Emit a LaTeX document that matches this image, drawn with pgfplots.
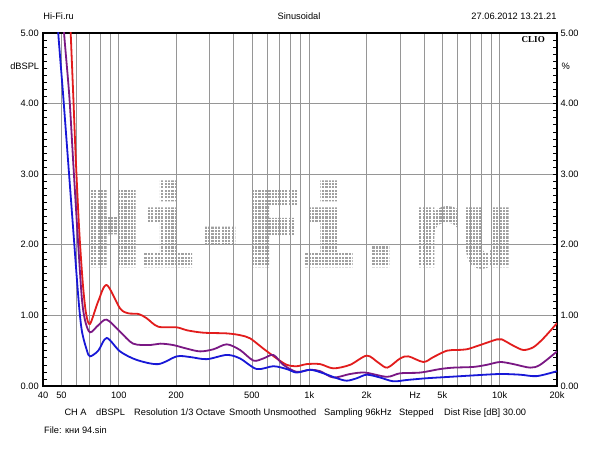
\documentclass[border=0pt]{standalone}
\usepackage{fontspec}
\setmainfont{Liberation Sans}
\newfontfamily\clioserif{Liberation Serif}
\newfontfamily\wmmono[BoldFeatures={FakeBold=4}]{DejaVu Sans Mono}
\usepackage{pgfplots}
\pgfplotsset{compat=1.18}
\definecolor{cred}{RGB}{226,28,28}
\definecolor{cpur}{RGB}{122,24,132}
\definecolor{cblu}{RGB}{24,24,215}
\definecolor{cgrid}{RGB}{150,150,150}
\definecolor{cwm}{RGB}{160,160,160}
\begin{document}
\begin{tikzpicture}[x=1bp,y=1bp]
\useasboundingbox[fill=white] (0,0) rectangle (600,450);
% watermark (dot-matrix look)
\node[anchor=south west, inner sep=0pt, text=cwm] at (86,183)
  {\resizebox{428bp}{83bp}{\wmmono\bfseries Hi-Fi.ru}};
\foreach \i in {0,...,26} {
  \draw[white, line width=1.1bp] (80,180.6+\i*3.35) -- (520,180.6+\i*3.35);
}
\foreach \i in {0,...,131} {
  \draw[white, line width=1.1bp] (80.25+\i*3.35,178) -- (80.25+\i*3.35,272);
}
\begin{axis}[
  at={(43bp,64bp)}, anchor=south west,
  width=514bp, height=353bp, scale only axis,
  xmode=log, xmin=40, xmax=20000, ymin=0, ymax=5,
  axis line style={line width=1.8bp},
  xtick={40,50,100,200,500,1000,2000,5000,10000,20000},
  xticklabels={40,50,100,200,500,1k,2k,5k,10k,20k},
  minor xtick={50,60,70,80,90,100,200,300,400,500,600,700,800,900,1000,2000,3000,4000,5000,6000,7000,8000,9000,10000},
  xmajorgrids=false, xminorgrids=true,
  minor x grid style={cgrid, line width=0.6bp},
  xtick style={draw=none},
  ytick={0,1,2,3,4,5},
  yticklabels={0.00,1.00,2.00,3.00,4.00,5.00},
  minor y tick num=9,
  ymajorgrids=true,
  major y grid style={cgrid, line width=0.6bp},
  tick align=inside,
  major tick length=4bp, minor tick length=4bp,
  ytick style={line width=0.6bp, black},
  ticklabel style={font=\fontsize{9.3}{10}\selectfont},
  xticklabel style={yshift=-2.5bp},
  yticklabel style={xshift=-0.8bp},
  /pgf/number format/assume math mode=true,
  clip=true,
]
\addplot[cred, line width=1.8bp, smooth] coordinates {
(55.3,5.3) (55.9,5.0) (57.7,4.1) (59.6,3.15) (62.0,2.2) (64.7,1.46) (67.3,1.03) (70.6,0.88)
(78,1.20) (86.4,1.43) (101.5,1.10) (112,1.03) (127,1.02) (140,0.96) (161,0.84) (202,0.83)
(227,0.79) (278,0.755) (369,0.745) (433,0.72) (489,0.675) (574,0.53) (675,0.39) (762,0.30)
(860,0.28) (971,0.31) (1140,0.31) (1339,0.25) (1639,0.30) (2005,0.43) (2307,0.33) (2573,0.26)
(3000,0.39) (3316,0.42) (3976,0.34) (4488,0.41) (5276,0.50) (5956,0.51) (6720,0.52) (7892,0.58)
(9660,0.66) (10264,0.66) (11808,0.57) (13324,0.51) (15040,0.55) (16972,0.675) (20000,0.89)
};
\addplot[cpur, line width=1.8bp, smooth] coordinates {
(51.2,5.3) (51.6,5.0) (55.0,4.1) (57.7,3.15) (60.6,2.2) (63.9,1.26) (66.5,0.93) (70.6,0.76)
(78,0.86) (86.4,0.94) (101.5,0.77) (119,0.60) (146,0.58) (165,0.60) (193,0.58) (227,0.53)
(267,0.49) (314,0.52) (369,0.59) (433,0.51) (509,0.36) (574,0.39) (648,0.44) (731,0.30)
(860,0.20) (1010,0.23) (1140,0.21) (1339,0.12) (1639,0.17) (1964,0.19) (2555,0.13) (3000,0.18)
(3820,0.19) (4864,0.24) (5716,0.26) (7280,0.27) (8560,0.30) (10052,0.34) (11808,0.31)
(14452,0.26) (16304,0.30) (20000,0.49)
};
\addplot[cblu, line width=1.8bp, smooth] coordinates {
(47.7,5.3) (48.1,5.0) (51.1,4.1) (54.3,3.15) (57.7,2.2) (61.3,1.26) (63.9,0.79) (67.9,0.51)
(70.6,0.42) (78,0.50) (86.4,0.68) (101.5,0.49) (124,0.37) (161,0.31) (202,0.42) (237,0.41)
(290,0.38) (369,0.44) (433,0.39) (530,0.24) (648,0.28) (762,0.24) (860,0.19) (1010,0.23)
(1187,0.18) (1395,0.11) (1575,0.075) (1777,0.11) (2005,0.16) (2355,0.12) (2766,0.066)
(3253,0.085) (4144,0.11) (5492,0.13) (7280,0.15) (10052,0.17) (12804,0.16) (15668,0.14)
(20000,0.21)
};
\end{axis}
\begin{axis}[
  at={(43bp,64bp)}, anchor=south west,
  width=514bp, height=353bp, scale only axis,
  xmode=log, xmin=40, xmax=20000, ymin=0, ymax=5,
  hide x axis, axis y line*=right, axis line style={draw=none},
  ytick={0,1,2,3,4,5},
  yticklabels={0.00,1.00,2.00,3.00,4.00,5.00},
  ytick style={draw=none},
  ticklabel style={font=\fontsize{9.3}{10}\selectfont},
]
\end{axis}
\tikzset{every node/.style={font=\fontsize{9.3}{10}\selectfont, inner sep=0pt}}
\node[anchor=base west] at (43.3,430.7) {Hi-Fi.ru};
\node[anchor=base] at (299,430.7) {Sinusoidal};
\node[anchor=base east] at (556.7,430.7) {27.06.2012 13.21.21};
\node[anchor=base east] at (39.3,380) {dBSPL};
\node[anchor=base west] at (561.5,380) {\%};
\node[anchor=base east, font=\clioserif\bfseries\fontsize{9.1}{10}\selectfont] at (545,407.5) {CLIO};
\node[anchor=base] at (415,51.7) {Hz};
\node[anchor=base west] at (64.3,34.7) {CH A};
\node[anchor=base west] at (96,34.7) {dBSPL};
\node[anchor=base west] at (134,34.7) {Resolution 1/3 Octave};
\node[anchor=base west] at (229,34.7) {Smooth Unsmoothed};
\node[anchor=base west] at (324,34.7) {Sampling 96kHz};
\node[anchor=base west] at (399,34.7) {Stepped};
\node[anchor=base west] at (444,34.7) {Dist Rise [dB] 30.00};
\node[anchor=base west] at (44,16.5) {File: кни 94.sin};
\end{tikzpicture}
\end{document}
